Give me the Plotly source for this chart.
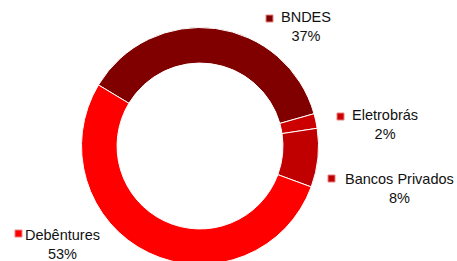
import plotly.graph_objects as go

labels = ["BNDES", "Eletrobrás", "Bancos Privados", "Debêntures"]
values = [37, 2, 8, 53]
colors = ["#800000", "#cc0000", "#c00000", "#ff0000"]

W, H = 457, 270  # figure slightly taller than window so the ring bottom is clipped like the reference

def px(x):
    return x / W

def py(y):
    return (H - y) / H

cx, cy, r = 200, 146, 118.5

fig = go.Figure(go.Pie(
    labels=labels,
    values=values,
    marker=dict(colors=colors, line=dict(color="white", width=1)),
    hole=0.70,
    sort=False,
    direction="clockwise",
    rotation=-59,
    textinfo="none",
    hoverinfo="label+percent",
    domain=dict(x=[px(cx - r), px(cx + r)], y=[py(cy + r), py(cy - r)]),
    showlegend=False,
))

total = sum(values)
# label block positions (pixel centres of text block) and square marker positions
label_pos = [(306, 27), (385, 125), (399, 188), (62, 244)]
square_pos = [(266, 15), (337, 113), (328, 175), (15, 230)]

annotations = []
shapes = []
for lab, val, col, (lx, ly), (sx, sy) in zip(labels, values, colors, label_pos, square_pos):
    pct = round(100 * val / total)
    annotations.append(dict(
        x=px(lx), y=py(ly), xref="paper", yref="paper",
        text=f"{lab}<br>{pct}%", showarrow=False, align="center",
        xanchor="center", yanchor="middle",
        font=dict(family="Liberation Sans, Arial, sans-serif", size=14.5, color="#111111"),
    ))
    shapes.append(dict(
        type="rect", xref="paper", yref="paper",
        x0=px(sx), x1=px(sx + 7), y0=py(sy + 7), y1=py(sy),
        fillcolor=col, line=dict(color="#e88080", width=1),
    ))

fig.update_layout(
    width=W, height=H,
    margin=dict(l=0, r=0, t=0, b=0),
    paper_bgcolor="white", plot_bgcolor="white",
    annotations=annotations, shapes=shapes,
)

fig.write_html("out.html", config={"displayModeBar": False},
               post_script="document.body.style.overflow='hidden';document.body.style.margin='0';")
